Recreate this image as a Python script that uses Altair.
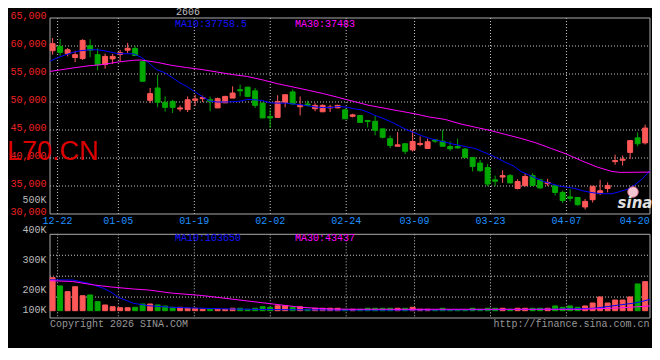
import altair as alt
import pandas as pd

# ---------------- data ----------------
opens = [59160, 59930, 58630, 57950, 57750, 60050, 58450, 56700, 57700, 58500,
         59250, 59550, 57200, 50300, 52500, 49950, 50100, 48750, 48650, 50300,
         50600, 50400, 48950, 49850, 50700, 52200, 52650, 52000, 49800, 47400,
         47250, 49950, 51800, 49150, 49650, 48800, 48250, 48950, 48950, 48600,
         47450, 47600, 46700, 46550, 45200, 43450, 42100, 42550, 41450, 42400,
         41700, 43250, 43000, 42050, 42050, 41600, 40100, 39100, 38300, 36100,
         36600, 36850, 34550, 35050, 36850, 36100, 35400, 35050, 33850, 33050,
         32950, 31250, 32550, 33650, 34550, 39350, 39600, 41000, 43600, 42700]
closes = [60410, 58860, 59340, 58450, 61000, 59250, 56650, 58150, 58150, 58800,
          59600, 58300, 53700, 51500, 49950, 49050, 49050, 48950, 50400, 50550,
          50800, 50050, 50600, 51000, 51600, 52000, 51000, 49400, 47150, 47150,
          50100, 51300, 49650, 49400, 49400, 49400, 49400, 49100, 49400, 47000,
          47700, 46350, 46500, 44950, 43700, 42250, 42350, 41200, 42950, 42600,
          42900, 43000, 42100, 41650, 41800, 40100, 38500, 37750, 35350, 35850,
          36850, 35550, 35800, 36700, 35100, 34650, 35650, 33850, 32400, 32800,
          31650, 32250, 34950, 34150, 35100, 39550, 39800, 43100, 42550, 45350]
highs = [61430, 61250, 59640, 59150, 61200, 61200, 59600, 58650, 58600, 59300,
         60550, 60000, 57300, 52500, 54850, 51000, 50400, 49400, 51000, 51300,
         51150, 50950, 50800, 51100, 52800, 53100, 52700, 52500, 49900, 48650,
         51200, 51300, 52200, 51000, 50250, 49800, 49600, 49500, 49500, 48700,
         47900, 47650, 46800, 47550, 45250, 44000, 44650, 42600, 45050, 43850,
         43450, 43400, 45050, 42950, 43450, 41800, 40150, 39650, 38950, 36850,
         37800, 37150, 36200, 37300, 37300, 36300, 36300, 35200, 34200, 34450,
         33000, 32700, 34950, 36100, 35650, 40600, 40450, 43100, 44550, 45950]
lows = [58450, 58270, 58140, 57100, 57500, 58000, 55650, 55950, 56800, 57300,
        58750, 58250, 53650, 49800, 49100, 48300, 48050, 48300, 48200, 49300,
        50000, 48350, 48900, 49800, 50700, 51000, 50950, 48950, 47150, 45350,
        47250, 49050, 49650, 47600, 49200, 48350, 48200, 48200, 48900, 46950,
        47250, 46300, 45450, 44050, 43500, 41750, 42050, 40700, 41150, 42100,
        41700, 42700, 42050, 41300, 41650, 39950, 37600, 37500, 34950, 34950,
        35550, 35500, 34400, 34950, 35000, 34550, 35000, 33300, 31950, 32250,
        31500, 30800, 32050, 33400, 33850, 38800, 38650, 39800, 42100, 42400]
# volume in thousand lots
volumes = [300, 225, 173, 218, 136, 143, 82, 52, 36, 27,
           27, 31, 61, 61, 52, 42, 31, 31, 22, 22,
           13, 13, 13, 13, 22, 22, 13, 22, 36, 31,
           45, 45, 31, 36, 13, 22, 22, 22, 22, 13,
           13, 13, 22, 22, 22, 22, 22, 22, 31, 13,
           13, 6, 22, 6, 6, 6, 22, 13, 22, 22,
           22, 13, 22, 22, 22, 22, 22, 43, 31, 43,
           31, 43, 70, 125, 70, 97, 97, 125, 243, 264]

ma10 = [57300, 57900, 58400, 58860, 59150, 59300, 59340, 59200, 58900, 58630,
        58630, 58600, 58000, 57000, 55800, 55300, 54450, 53500, 52790, 51900,
        51000, 50200, 50000, 50000, 50050, 50150, 50450, 50400, 50250, 49850,
        49800, 49800, 49650, 49520, 49300, 49100, 49000, 49000, 49200, 49100,
        48800, 48600, 48100, 47500, 47000, 46400, 45700, 45000, 44500, 43950,
        43500, 43150, 42850, 42500, 42250, 41950, 41700, 41100, 40550, 39900,
        39200, 38600, 37600, 37000, 36400, 35800, 35400, 35000, 34800, 34600,
        34200, 33900, 33700, 33620, 33620, 34000, 34400, 35200, 36300, 37758.5]
ma30_idx = [0, 3, 5, 7, 9, 11, 12, 14, 16, 18, 20, 22, 24, 26, 28, 30, 32, 34, 36, 38,
            40, 42, 44, 46, 48, 50, 52, 54, 56, 58, 60, 62, 64, 66, 68, 70, 72, 74, 75, 79]
ma30 = [55460, 56070, 56450, 56700, 57150, 57450, 57500, 57100, 56550, 56150,
        55800, 55350, 54900, 54550, 53950, 53250, 52680, 52100, 51500, 50800,
        50100, 49400, 48900, 48400, 47900, 47300, 46900, 46100, 45500, 44900,
        44200, 43500, 42700, 41700, 40700, 39500, 38400, 37600, 37430, 37483]

vol_ma10_idx = [0, 3, 5, 7, 8, 9, 11, 13, 16, 20, 24, 30, 38, 47, 55, 66, 71, 72, 75, 77, 78, 79]
vol_ma10 = [280, 279, 250, 205, 170, 122, 67, 45, 31, 22, 15, 10, 6, 6, 8, 13, 20, 25, 52, 70, 85, 103.65]
vol_ma30_idx = [0, 3, 6, 8, 11, 13, 16, 20, 24, 28, 33, 37, 40, 70, 75, 79]
vol_ma30 = [273, 265, 232, 216, 197, 188, 160, 138, 105, 72, 31, 15, 13, 13, 25, 43.437]

price_ticks = [30000, 35000, 40000, 45000, 50000, 55000, 60000, 65000]
price_grid = [35000, 40000, 45000, 50000, 55000, 60000]
date_labels = ["12-22", "01-05", "01-19", "02-02", "02-24", "03-09", "03-23", "04-07", "04-20"]
date_pos = [1, 9, 19, 29, 39, 48, 58, 68, 77]
vol_tick_labels = ["500K", "400K", "300K", "200K", "100K"]
vol_tick_pos = [1006, 734, 461, 188, 6]
vol_grid = [124, 314, 504]

# ---------------- styling ----------------
W, H = 600, 300
UP, DOWN = "#ff5858", "#00a800"
BLUE, MAG = "#0000ff", "#ff00ff"
GRID, FRAME = "#c8c8c8", "#aaaaaa"
MONO = "Liberation Mono"

PRICE_DOM = [11428.6, 65000]
VOL_DOM = [-66.4, 2660.9]
VOL_TOP = 694.5
xc = alt.Scale(domain=[-0.35, 79.65], nice=False, zero=False)
xl = alt.Scale(domain=[0, 79], nice=False, zero=False)
yp = alt.Scale(domain=PRICE_DOM, nice=False, zero=False)
yv = alt.Scale(domain=VOL_DOM, nice=False, zero=False)

n = len(opens)
candles = pd.DataFrame({"i": list(range(n)), "open": opens, "close": closes,
                        "high": highs, "low": lows, "vol": volumes})
candles["dir"] = ["up" if c >= o else "down" for o, c in zip(opens, closes)]
dir_scale = alt.Scale(domain=["up", "down"], range=[UP, DOWN])
col = alt.Color("dir:N", scale=dir_scale, legend=None)
stk = alt.Stroke("dir:N", scale=dir_scale, legend=None)

base = alt.Chart(candles).transform_calculate(lo="datum.i - 0.33", hi="datum.i + 0.33", base="0")

wicks = base.mark_rule(strokeWidth=1).encode(
    x=alt.X("i:Q", scale=xc, axis=None),
    y=alt.Y("low:Q", scale=yp, axis=None), y2="high:Q", color=col)
bodies = base.mark_bar(strokeWidth=1).encode(
    x=alt.X("lo:Q", scale=xc, axis=None), x2="hi:Q",
    y=alt.Y("open:Q", scale=yp, axis=None), y2="close:Q", color=col, stroke=stk)
vbars = base.mark_bar(strokeWidth=1).encode(
    x=alt.X("lo:Q", scale=xc, axis=None), x2="hi:Q",
    y=alt.Y("vol:Q", scale=yv, axis=None), y2="base:Q", color=col, stroke=stk)

price_axis = alt.Axis(values=price_ticks, orient="left", labelColor="#ee2222", labelFont=MONO,
                      labelFontSize=10, ticks=False, tickSize=0, domain=False, grid=False,
                      labelPadding=4, labelBaseline="alphabetic", title=None,
                      labelFlush=False, labelOverlap=False)

hgrid_p = alt.Chart(pd.DataFrame({"p": price_grid})).mark_rule(
    color=GRID, strokeDash=[1, 2], strokeWidth=1).encode(
    y=alt.Y("p:Q", scale=yp, axis=price_axis), x=alt.value(0), x2=alt.value(W))
hgrid_v = alt.Chart(pd.DataFrame({"v": vol_grid})).mark_rule(
    color=GRID, strokeDash=[1, 2], strokeWidth=1).encode(
    y=alt.Y("v:Q", scale=yv, axis=None), x=alt.value(0), x2=alt.value(W))
vg = pd.DataFrame({"d": date_pos[:8]})
vgrid_p = alt.Chart(vg).mark_rule(color=GRID, strokeDash=[1, 2], strokeWidth=1).encode(
    x=alt.X("d:Q", scale=xl, axis=None),
    y=alt.Y(datum=65000, scale=yp, axis=None), y2=alt.Y2(datum=30000))
vgrid_v = alt.Chart(vg).mark_rule(color=GRID, strokeDash=[1, 2], strokeWidth=1).encode(
    x=alt.X("d:Q", scale=xl, axis=None),
    y=alt.Y(datum=VOL_TOP, scale=yv, axis=None), y2=alt.Y2(datum=VOL_DOM[0]))

frame_p = alt.Chart(pd.DataFrame({"k": [0]})).mark_rect(
    fillOpacity=0, stroke=FRAME, strokeWidth=1).encode(
    x=alt.value(0), x2=alt.value(W),
    y=alt.Y(datum=65000, scale=yp, axis=None), y2=alt.Y2(datum=30000))
frame_v = alt.Chart(pd.DataFrame({"k": [0]})).mark_rect(
    fillOpacity=0, stroke=FRAME, strokeWidth=1).encode(
    x=alt.value(0), x2=alt.value(W),
    y=alt.Y(datum=VOL_TOP, scale=yv, axis=None), y2=alt.Y2(datum=VOL_DOM[0]))

def line(idx, vals, scale, color):
    return alt.Chart(pd.DataFrame({"i": idx, "v": vals})).mark_line(
        color=color, strokeWidth=1).encode(
        x=alt.X("i:Q", scale=xl, axis=None), y=alt.Y("v:Q", scale=scale, axis=None))

l_ma10 = line(list(range(n)), ma10, yp, BLUE)
l_ma30 = line(ma30_idx, ma30, yp, MAG)
l_vma10 = line(vol_ma10_idx, vol_ma10, yv, BLUE)
l_vma30 = line(vol_ma30_idx, vol_ma30, yv, MAG)

date_txt = alt.Chart(pd.DataFrame({"t": date_labels, "d": date_pos})).mark_text(
    font=MONO, fontSize=10, color="#1e90ff", align="center", baseline="middle").encode(
    x=alt.X("d:Q", scale=xl, axis=None), y=alt.value(203), text="t:N")
vol_txt = alt.Chart(pd.DataFrame({"t": vol_tick_labels, "v": vol_tick_pos})).mark_text(
    font=MONO, fontSize=10, color="#bbbbbb", align="right", baseline="middle").encode(
    y=alt.Y("v:Q", scale=yv, axis=None), x=alt.value(-3.5), text="t:N")

def label(text, x, y, color, align="left", size=10, font=MONO, baseline="middle", **kw):
    return alt.Chart(pd.DataFrame({"t": [text]})).mark_text(
        align=align, baseline=baseline, color=color, font=font, fontSize=size, **kw).encode(
        text="t:N", x=alt.value(x), y=alt.value(y))

# sina logo "eye"
eye = alt.Chart(pd.DataFrame({"k": [0]})).mark_point(
    shape="circle", filled=True, size=110, color="#f7c6d2", opacity=1,
    stroke="#e07090", strokeWidth=1).encode(x=alt.value(583), y=alt.value(174))

texts = [
    label("2606", 138, -3.2, "#c0c0c0", align="center", baseline="alphabetic"),
    label(f"MA10:{ma10[-1]:g}", 125, 5.7, "#1515ff"),
    label(f"MA30:{ma30[-1]:g}", 245, 5.7, MAG),
    label(f"MA10:{round(vol_ma10[-1] * 1000)}", 125, 220, "#1515ff"),
    label(f"MA30:{round(vol_ma30[-1] * 1000)}", 245, 220, MAG),
    label("Copyright 2026 SINA.COM", 0, 305.5, "#999999"),
    label("http://finance.sina.com.cn", 599.5, 305.5, "#999999", align="right"),
    label("L70.CN", -43, 142, "#dd0000", size=27, font="Liberation Sans", baseline="alphabetic"),
    label("sina", 585, 190, "#e0e0e0", align="center", size=15, font="DejaVu Sans",
          baseline="alphabetic", fontWeight="bold", fontStyle="italic"),
]

chart = alt.layer(
    hgrid_p, hgrid_v, vgrid_p, vgrid_v, frame_p, frame_v,
    vbars, wicks, bodies, l_ma10, l_ma30, l_vma10, l_vma30, eye,
    date_txt, vol_txt, *texts
).resolve_scale(x="independent", y="independent").properties(
    width=W, height=H, background="black",
    autosize=alt.AutoSizeParams(type="none"),
    padding={"left": 42, "top": 10, "right": 2, "bottom": 30},
).configure_view(strokeWidth=0)

chart.save("out.html", embed_options={"renderer": "svg", "actions": False})
